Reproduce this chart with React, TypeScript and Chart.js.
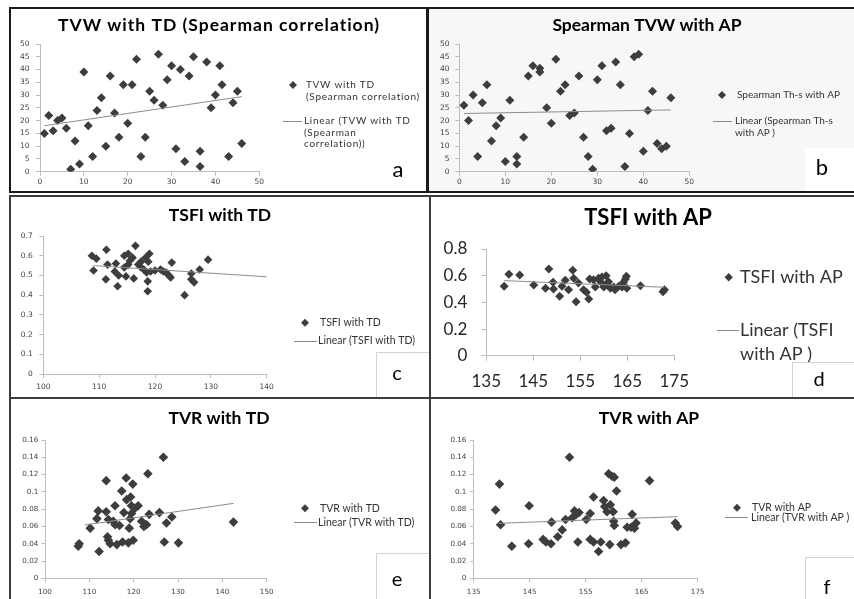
import React, { useEffect, useRef } from "react";
import { Chart, registerables } from "chart.js";
Chart.register(...registerables);

// ---------------- DATA ----------------
// (a) TVW with TD (Spearman correlation)
const tvwTdX = [1, 2, 3, 4, 5, 6, 7, 8, 9, 10, 11, 12, 13, 14, 15, 16, 17, 18, 19, 20, 21, 22, 23, 24, 25, 26, 27, 28, 29, 30, 31, 32, 33, 34, 35, 36.5, 36.5, 38, 39, 40, 41, 41.5, 43, 44, 45, 46];
const tvwTdY = [15, 22, 16, 20, 21, 17, 1, 12, 3, 39, 18, 6, 24, 29, 10, 37.5, 23, 13.5, 34, 19, 34, 44, 6, 13.5, 31.5, 28, 46, 26, 36, 41.5, 9, 40, 4, 37.5, 45, 8, 2, 43, 25, 30, 41.5, 34, 6, 27, 31.5, 11];
const tvwTdTrendX = [1, 46];
const tvwTdTrendY = [18, 29.4];
const tvwTdXTicks = [0, 10, 20, 30, 40, 50];
const tvwTdYTicks = [0, 5, 10, 15, 20, 25, 30, 35, 40, 45, 50];

// (b) Spearman TVW with AP
const tvwApX = [1, 2, 3, 4, 5, 6, 7, 8, 9, 10, 11, 12.5, 12.5, 14, 15, 16, 17.5, 17.5, 19, 20, 21, 22, 23, 24, 25, 26, 27, 28, 29, 30, 31, 32, 33, 34, 35, 36, 37, 38, 39, 40, 41, 42, 43, 44, 45, 46];
const tvwApY = [26, 20, 30, 6, 27, 34, 12, 18, 21, 4, 28, 6, 3, 13.5, 37.5, 41.5, 40.5, 39, 25, 19, 44, 31.5, 34, 22, 23, 37.5, 13.5, 6, 1, 36, 41.5, 16, 17, 43, 34, 2, 15, 45, 46, 8, 24, 31.5, 11, 9, 10, 29];
const tvwApTrendX = [1, 46];
const tvwApTrendY = [22.8, 24.2];
const tvwApXTicks = [0, 10, 20, 30, 40, 50];
const tvwApYTicks = [0, 5, 10, 15, 20, 25, 30, 35, 40, 45, 50];

// (c) TSFI with TD
const tsfiTdX = [108.7, 109.5, 109, 111.3, 111.5, 111.2, 113, 112.8, 113.5, 113.3, 114.5, 114.8, 115.2, 115.5, 115.2, 114.5, 116, 116.5, 116.2, 117, 117.5, 117.5, 118, 118.5, 118.3, 118.7, 118.7, 119, 118.8, 119.2, 120, 121, 121.5, 122, 122.5, 122.8, 123, 125.3, 126.5, 126.5, 127, 128, 129.5];
const tsfiTdY = [0.6, 0.585, 0.525, 0.63, 0.555, 0.48, 0.56, 0.52, 0.5, 0.445, 0.6, 0.495, 0.61, 0.575, 0.555, 0.54, 0.59, 0.65, 0.485, 0.555, 0.57, 0.54, 0.53, 0.515, 0.59, 0.47, 0.42, 0.61, 0.57, 0.52, 0.525, 0.53, 0.52, 0.515, 0.5, 0.49, 0.565, 0.4, 0.51, 0.48, 0.465, 0.53, 0.58];
const tsfiTdTrendX = [109, 140];
const tsfiTdTrendY = [0.55, 0.493];
const tsfiTdXTicks = [100, 110, 120, 130, 140];
const tsfiTdYTicks = [0, 0.1, 0.2, 0.3, 0.4, 0.5, 0.6, 0.7];

// (d) TSFI with AP
const tsfiApX = [138.8, 139.8, 142.1, 145.1, 147.6, 148.3, 149.2, 149.3, 150.6, 151.1, 151.8, 152.5, 153.4, 153.6, 154.1, 154.6, 155.7, 156.3, 156.8, 157, 157.8, 158.2, 158.9, 159.3, 159.6, 160, 160.5, 160.7, 161, 161.4, 162.1, 162.4, 163.2, 163.9, 164.2, 164.6, 164.8, 164.9, 167.8, 172.6, 172.9];
const tsfiApY = [0.52, 0.61, 0.605, 0.53, 0.505, 0.65, 0.55, 0.5, 0.445, 0.52, 0.565, 0.495, 0.64, 0.58, 0.405, 0.545, 0.495, 0.475, 0.425, 0.575, 0.57, 0.515, 0.58, 0.555, 0.59, 0.515, 0.6, 0.54, 0.555, 0.505, 0.515, 0.495, 0.52, 0.515, 0.55, 0.575, 0.595, 0.505, 0.525, 0.48, 0.495];
const tsfiApTrendX = [138.8, 172.9];
const tsfiApTrendY = [0.563, 0.513];
const tsfiApXTicks = [135, 145, 155, 165, 175];
const tsfiApYTicks = [0, 0.2, 0.4, 0.6, 0.8];

// (e) TVR with TD
const tvrTdX = [107.5, 107.7, 110.2, 112.2, 111.7, 112, 113.8, 113.8, 114.3, 114.1, 114.3, 114.7, 115.4, 115.8, 115.8, 116.2, 116.8, 117.3, 117.5, 117.8, 118.3, 118.4, 118.8, 119, 119.2, 119.3, 119.5, 119.5, 119.8, 119.9, 120.3, 121, 121.8, 122.3, 122.9, 123.2, 123.5, 125.8, 126.7, 126.9, 127.4, 128.6, 130.1, 142.5];
const tvrTdY = [0.037, 0.04, 0.058, 0.031, 0.069, 0.078, 0.113, 0.077, 0.068, 0.048, 0.044, 0.04, 0.066, 0.084, 0.062, 0.039, 0.061, 0.101, 0.042, 0.076, 0.116, 0.091, 0.041, 0.058, 0.069, 0.094, 0.084, 0.075, 0.109, 0.044, 0.081, 0.084, 0.066, 0.06, 0.062, 0.121, 0.074, 0.076, 0.14, 0.042, 0.064, 0.071, 0.041, 0.065];
const tvrTdTrendX = [109, 142.5];
const tvrTdTrendY = [0.0617, 0.0867];
const tvrTdXTicks = [100, 110, 120, 130, 140, 150];
const tvrTdYTicks = [0, 0.02, 0.04, 0.06, 0.08, 0.1, 0.12, 0.14, 0.16];

// (f) TVR with AP
const tvrApX = [138.9, 139.6, 139.8, 141.8, 144.8, 144.9, 147.4, 147.9, 148.8, 148.9, 150, 150.8, 151.4, 152.1, 152.6, 153, 153.3, 153.6, 153.8, 155.1, 155.8, 155.8, 156.4, 156.4, 157.3, 157.7, 158.2, 158.4, 158.8, 159.1, 159.3, 159.4, 159.7, 159.9, 160, 160.1, 160.1, 160.5, 161.3, 162.1, 162.4, 163.1, 163.3, 163.7, 164, 166.4, 171, 171.4];
const tvrApY = [0.079, 0.109, 0.062, 0.037, 0.04, 0.084, 0.045, 0.042, 0.04, 0.065, 0.048, 0.056, 0.068, 0.14, 0.07, 0.078, 0.074, 0.042, 0.076, 0.068, 0.075, 0.045, 0.094, 0.042, 0.031, 0.042, 0.09, 0.083, 0.077, 0.121, 0.039, 0.085, 0.118, 0.077, 0.066, 0.117, 0.061, 0.101, 0.039, 0.041, 0.059, 0.059, 0.074, 0.058, 0.064, 0.113, 0.064, 0.06];
const tvrApTrendX = [139.5, 171.4];
const tvrApTrendY = [0.0636, 0.0713];
const tvrApXTicks = [135, 145, 155, 165, 175];
const tvrApYTicks = [0, 0.02, 0.04, 0.06, 0.08, 0.1, 0.12, 0.14, 0.16];

// ---------------- STYLE / LAYOUT ----------------
const FONT = "Lato, 'Liberation Sans', sans-serif";
const TICK_FONT = "'DejaVu Sans', sans-serif";
const MARKER = "#3d3d3d";
const TREND = "#8c8c8c";
const AXIS = "#bdbdbd";
const LEG_TEXT = "#333333";
const SMALL_TICK = "#444444";

type Box = { x: number; y: number; w: number; h: number };
type PanelDef = {
  inner: Box;
  borders: [number, number, number, number]; // t r b l
  borderColor: string;
  bg: string;
  xs: number[]; ys: number[]; tx: number[]; ty: number[];
  xTicks: number[]; yTicks: number[];
  area: { l: number; r: number; t: number; b: number };
  tickFont: string; tickSize: number; tickColor: string;
  xLen: number; xPad: number; yLen: number; yPad: number;
  markerR: number;
  title: string; titleSize: number; titleX: number; titleY: number; titleSpacing: number;
  legSize: number; legLH: number; legR: number; legSpacing: number;
  legMarker: { x: number; y: number; tx: number; lines: string[] };
  legLine: { x1: number; x2: number; y: number; tx: number; lines: string[] };
  letter: string; letterX: number; letterY: number; letterSize: number;
  letterBox: Box | null; letterStroke: string | null;
};

const panels: PanelDef[] = [
  {
    inner: { x: 11, y: 9, w: 415, h: 182 }, borders: [2, 3, 2, 2], borderColor: "#1a1a1a", bg: "#ffffff",
    xs: tvwTdX, ys: tvwTdY, tx: tvwTdTrendX, ty: tvwTdTrendY, xTicks: tvwTdXTicks, yTicks: tvwTdYTicks,
    area: { l: 40, r: 259.3, t: 44, b: 171.7 },
    tickFont: TICK_FONT, tickSize: 7.5, tickColor: SMALL_TICK, xLen: 4, xPad: 2, yLen: 4, yPad: 6.5, markerR: 4.5,
    title: "TVW with TD (Spearman correlation)", titleSize: 17.5, titleX: 219, titleY: 25, titleSpacing: 1,
    legSize: 10, legLH: 11.6, legR: 4, legSpacing: 0.7,
    legMarker: { x: 293, y: 85, tx: 306, lines: ["TVW with TD", "(Spearman correlation)"] },
    legLine: { x1: 283, x2: 302, y: 121, tx: 304, lines: ["Linear (TVW with TD", "(Spearman", "correlation))"] },
    letter: "a", letterX: 398, letterY: 170, letterSize: 22, letterBox: null, letterStroke: null,
  },
  {
    inner: { x: 429, y: 9, w: 425, h: 182 }, borders: [2, 0, 2, 0], borderColor: "#1a1a1a", bg: "#f7f7f7",
    xs: tvwApX, ys: tvwApY, tx: tvwApTrendX, ty: tvwApTrendY, xTicks: tvwApXTicks, yTicks: tvwApYTicks,
    area: { l: 459.3, r: 689.3, t: 44, b: 171.7 },
    tickFont: TICK_FONT, tickSize: 7.5, tickColor: SMALL_TICK, xLen: 4, xPad: 2, yLen: 4, yPad: 5.7, markerR: 4.5,
    title: "Spearman TVW with AP", titleSize: 17.5, titleX: 647, titleY: 25, titleSpacing: 0,
    legSize: 10, legLH: 11.6, legR: 4, legSpacing: 0,
    legMarker: { x: 722, y: 95, tx: 737, lines: ["Spearman Th-s with AP"] },
    legLine: { x1: 713, x2: 732, y: 121, tx: 735, lines: ["Linear (Spearman Th-s", "with AP )"] },
    letter: "b", letterX: 822, letterY: 168, letterSize: 22, letterBox: { x: 805, y: 148, w: 49, h: 44 }, letterStroke: null,
  },
  {
    inner: { x: 11, y: 197, w: 418, h: 200 }, borders: [2, 2, 2, 2], borderColor: "#3c3c3c", bg: "#ffffff",
    xs: tsfiTdX, ys: tsfiTdY, tx: tsfiTdTrendX, ty: tsfiTdTrendY, xTicks: tsfiTdXTicks, yTicks: tsfiTdYTicks,
    area: { l: 43.3, r: 266.7, t: 236, b: 374 },
    tickFont: TICK_FONT, tickSize: 7.5, tickColor: SMALL_TICK, xLen: 4, xPad: 4.5, yLen: 4, yPad: 6.5, markerR: 4.3,
    title: "TSFI with TD", titleSize: 17.5, titleX: 220, titleY: 215, titleSpacing: 0,
    legSize: 10.5, legLH: 11.5, legR: 4, legSpacing: 0,
    legMarker: { x: 305, y: 322.7, tx: 320, lines: ["TSFI with TD"] },
    legLine: { x1: 294, x2: 317, y: 341, tx: 318, lines: ["Linear (TSFI with TD)"] },
    letter: "c", letterX: 397, letterY: 374, letterSize: 20, letterBox: { x: 376, y: 352, w: 53, h: 45 }, letterStroke: "#d4d4d4",
  },
  {
    inner: { x: 431, y: 197, w: 423, h: 200 }, borders: [2, 0, 2, 0], borderColor: "#3c3c3c", bg: "#ffffff",
    xs: tsfiApX, ys: tsfiApY, tx: tsfiApTrendX, ty: tsfiApTrendY, xTicks: tsfiApXTicks, yTicks: tsfiApYTicks,
    area: { l: 486.3, r: 674.3, t: 249, b: 355.7 },
    tickFont: FONT, tickSize: 17, tickColor: "#262626", xLen: 5, xPad: 11, yLen: 5, yPad: 14, markerR: 4.5,
    title: "TSFI with AP", titleSize: 22, titleX: 648, titleY: 218.3, titleSpacing: 0,
    legSize: 18, legLH: 24, legR: 4.2, legSpacing: 0,
    legMarker: { x: 728.7, y: 277.3, tx: 740, lines: ["TSFI with AP"] },
    legLine: { x1: 717, x2: 739, y: 330, tx: 740, lines: ["Linear (TSFI", "with AP )"] },
    letter: "d", letterX: 819, letterY: 380, letterSize: 20, letterBox: { x: 792, y: 362, w: 62, h: 35 }, letterStroke: "#d4d4d4",
  },
  {
    inner: { x: 11, y: 399, w: 418, h: 200 }, borders: [0, 2, 0, 2], borderColor: "#3c3c3c", bg: "#ffffff",
    xs: tvrTdX, ys: tvrTdY, tx: tvrTdTrendX, ty: tvrTdTrendY, xTicks: tvrTdXTicks, yTicks: tvrTdYTicks,
    area: { l: 45, r: 266.7, t: 440, b: 578.3 },
    tickFont: TICK_FONT, tickSize: 7.2, tickColor: SMALL_TICK, xLen: 4, xPad: 5.6, yLen: 3.5, yPad: 3.2, markerR: 4.8,
    title: "TVR with TD", titleSize: 17.5, titleX: 219, titleY: 418, titleSpacing: 0,
    legSize: 10.5, legLH: 11.5, legR: 4, legSpacing: 0,
    legMarker: { x: 305, y: 508.3, tx: 320, lines: ["TVR with TD"] },
    legLine: { x1: 294, x2: 317, y: 522.3, tx: 318, lines: ["Linear (TVR with TD)"] },
    letter: "e", letterX: 397, letterY: 580, letterSize: 20, letterBox: { x: 376, y: 553, w: 53, h: 47 }, letterStroke: "#d4d4d4",
  },
  {
    inner: { x: 431, y: 399, w: 423, h: 200 }, borders: [0, 0, 0, 0], borderColor: "#3c3c3c", bg: "#ffffff",
    xs: tvrApX, ys: tvrApY, tx: tvrApTrendX, ty: tvrApTrendY, xTicks: tvrApXTicks, yTicks: tvrApYTicks,
    area: { l: 473.7, r: 697.7, t: 440, b: 578.3 },
    tickFont: TICK_FONT, tickSize: 7.2, tickColor: SMALL_TICK, xLen: 4, xPad: 5.6, yLen: 3.5, yPad: 3.8, markerR: 4.8,
    title: "TVR with AP", titleSize: 17.5, titleX: 649, titleY: 418, titleSpacing: 0,
    legSize: 10.5, legLH: 11.5, legR: 4, legSpacing: 0,
    legMarker: { x: 737, y: 507.7, tx: 752, lines: ["TVR with AP"] },
    legLine: { x1: 725, x2: 748, y: 517.3, tx: 751, lines: ["Linear (TVR with AP )"] },
    letter: "f", letterX: 827, letterY: 588, letterSize: 20, letterBox: { x: 805, y: 557, w: 49, h: 43 }, letterStroke: "#d4d4d4",
  },
];

const fmt = (v: number | string) => String(Number(Number(v).toFixed(4)));

function makeDecor(p: PanelDef) {
  const ox = p.inner.x;
  const oy = p.inner.y;
  return {
    id: "decor",
    afterDraw(chart: any) {
      const ctx: any = chart.ctx;
      ctx.save();
      ctx.textBaseline = "middle";
      // title
      ctx.fillStyle = "#000000";
      ctx.textAlign = "center";
      ctx.font = `bold ${p.titleSize}px ${FONT}`;
      ctx.letterSpacing = `${p.titleSpacing}px`;
      ctx.fillText(p.title, p.titleX - ox, p.titleY - oy);
      // legend: marker entry
      const mx = p.legMarker.x - ox;
      const my = p.legMarker.y - oy;
      const r = p.legR;
      ctx.fillStyle = MARKER;
      ctx.beginPath();
      ctx.moveTo(mx, my - r);
      ctx.lineTo(mx + r, my);
      ctx.lineTo(mx, my + r);
      ctx.lineTo(mx - r, my);
      ctx.closePath();
      ctx.fill();
      ctx.textAlign = "left";
      ctx.font = `${p.legSize}px ${FONT}`;
      ctx.letterSpacing = `${p.legSpacing}px`;
      ctx.fillStyle = LEG_TEXT;
      p.legMarker.lines.forEach((t, i) => ctx.fillText(t, p.legMarker.tx - ox, my + i * p.legLH));
      // legend: trend entry
      const ly = Math.round(p.legLine.y - oy) + 0.5;
      ctx.strokeStyle = TREND;
      ctx.lineWidth = 1;
      ctx.beginPath();
      ctx.moveTo(p.legLine.x1 - ox, ly);
      ctx.lineTo(p.legLine.x2 - ox, ly);
      ctx.stroke();
      p.legLine.lines.forEach((t, i) => ctx.fillText(t, p.legLine.tx - ox, p.legLine.y - oy + i * p.legLH));
      ctx.letterSpacing = "0px";
      // letter box
      if (p.letterBox) {
        const b = p.letterBox;
        ctx.fillStyle = "#ffffff";
        ctx.fillRect(b.x - ox, b.y - oy, b.w, b.h);
        if (p.letterStroke) {
          ctx.strokeStyle = p.letterStroke;
          ctx.strokeRect(Math.round(b.x - ox) + 0.5, Math.round(b.y - oy) + 0.5, b.w, b.h);
        }
      }
      ctx.fillStyle = "#000000";
      ctx.textAlign = "center";
      ctx.font = `${p.letterSize}px ${FONT}`;
      ctx.fillText(p.letter, p.letterX - ox, p.letterY - oy);
      ctx.restore();
    },
  };
}

function Panel({ p }: { p: PanelDef }) {
  const ref = useRef<HTMLCanvasElement>(null);
  useEffect(() => {
    const canvas = ref.current;
    if (!canvas) return;
    const W = p.inner.w;
    const H = p.inner.h;
    const yAxisW = p.area.l - p.inner.x;
    const xAxisH = p.inner.y + H - p.area.b;
    const tickCommon = {
      font: { family: p.tickFont, size: p.tickSize },
      color: p.tickColor,
      maxRotation: 0,
      autoSkip: false,
      callback: (v: number | string) => fmt(v),
    };
    const chart = new Chart(canvas, {
      type: "scatter",
      data: {
        datasets: [
          {
            type: "line",
            label: "trend",
            data: p.tx.map((x, i) => ({ x, y: p.ty[i] })),
            borderColor: TREND,
            borderWidth: 1,
            pointRadius: 0,
            fill: false,
            order: 0,
          } as any,
          {
            type: "scatter",
            label: "points",
            data: p.xs.map((x, i) => ({ x, y: p.ys[i] })),
            pointStyle: "rectRot",
            pointRadius: p.markerR,
            backgroundColor: MARKER,
            borderColor: MARKER,
            borderWidth: 0,
            order: 1,
          } as any,
        ],
      },
      options: {
        responsive: false,
        animation: false,
        events: [],
        layout: {
          padding: {
            left: 0,
            top: p.area.t - p.inner.y,
            right: p.inner.x + W - p.area.r,
            bottom: 0,
          },
        },
        scales: {
          x: {
            type: "linear",
            min: p.xTicks[0],
            max: p.xTicks[p.xTicks.length - 1],
            afterBuildTicks: (s: any) => {
              s.ticks = p.xTicks.map((value) => ({ value }));
            },
            afterFit: (s: any) => {
              s.height = xAxisH;
            },
            ticks: { ...tickCommon, padding: p.xPad },
            grid: { display: true, drawOnChartArea: false, drawTicks: true, tickLength: p.xLen, color: AXIS, lineWidth: 1 },
            border: { display: true, color: AXIS, width: 1 },
          } as any,
          y: {
            type: "linear",
            min: p.yTicks[0],
            max: p.yTicks[p.yTicks.length - 1],
            afterBuildTicks: (s: any) => {
              s.ticks = p.yTicks.map((value) => ({ value }));
            },
            afterFit: (s: any) => {
              s.width = yAxisW;
            },
            ticks: { ...tickCommon, padding: p.yPad },
            grid: { display: true, drawOnChartArea: false, drawTicks: true, tickLength: p.yLen, color: AXIS, lineWidth: 1 },
            border: { display: true, color: AXIS, width: 1 },
          } as any,
        },
        plugins: {
          legend: { display: false },
          tooltip: { enabled: false },
          title: { display: false },
        },
      },
      plugins: [makeDecor(p)],
    });
    return () => chart.destroy();
  }, [p]);

  const [bt, br, bb, bl] = p.borders;
  return (
    <div
      style={{
        position: "absolute",
        left: p.inner.x - bl,
        top: p.inner.y - bt,
        width: p.inner.w,
        height: p.inner.h,
        borderStyle: "solid",
        borderColor: p.borderColor,
        borderWidth: `${bt}px ${br}px ${bb}px ${bl}px`,
        background: p.bg,
      }}
    >
      <canvas
        ref={ref}
        width={p.inner.w}
        height={p.inner.h}
        style={{ display: "block", width: p.inner.w, height: p.inner.h }}
      />
    </div>
  );
}

export default function App() {
  return (
    <div
      style={{
        position: "absolute",
        left: 0,
        top: 0,
        width: 854,
        height: 599,
        overflow: "hidden",
        background: "#ffffff",
        fontFamily: FONT,
      }}
    >
      {panels.map((p, i) => (
        <Panel key={i} p={p} />
      ))}
    </div>
  );
}
